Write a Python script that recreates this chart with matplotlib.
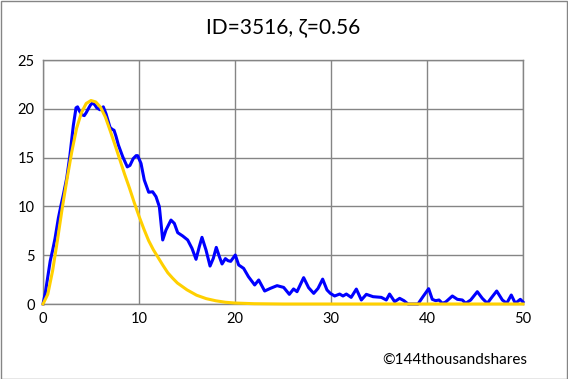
import matplotlib.pyplot as plt
from matplotlib.patches import Rectangle

plt.rcParams['font.family'] = ['Lato', 'DejaVu Sans']

obs_x = [0.0, 0.25, 0.5, 0.75, 1.0, 1.25, 1.6, 1.85, 2.12, 2.47, 2.8, 3.16, 3.44, 3.6,
         3.78, 4.05, 4.3, 4.5, 4.72, 4.95, 5.17, 5.4, 5.6, 5.94, 6.28, 6.56, 6.98, 7.2,
         7.4, 7.6, 7.85, 8.3, 8.78, 9.06, 9.4, 9.7, 9.86, 10.21, 10.55, 11.01, 11.42,
         11.77, 12.12, 12.47, 12.81, 13.33, 13.68, 14.03, 14.55, 15.07, 15.52, 15.94,
         16.28, 16.56, 16.98, 17.40, 17.74, 18.05, 18.37, 18.65, 19.0, 19.27, 19.55,
         20.03, 20.38, 20.9, 21.4, 22.05, 22.47, 23.09, 23.68, 24.38, 25.07, 25.66,
         26.1, 26.46, 27.15, 27.67, 28.2, 28.65, 29.13, 29.58, 29.93, 30.38, 30.9,
         31.25, 31.6, 32.1, 32.64, 33.16, 33.68, 34.38, 35.24, 35.76, 36.1, 36.63,
         37.15, 37.6, 38.02, 39.06, 39.58, 40.17, 40.55, 40.9, 41.25, 41.6, 41.94,
         42.64, 43.16, 43.68, 44.03, 44.55, 45.24, 45.76, 46.28, 46.8, 47.26, 47.85,
         48.3, 48.78, 49.2, 49.72, 50.0]
obs_y = [0.0, 1.2, 2.8, 4.4, 5.5, 6.7, 8.8, 10.0, 11.2, 12.9, 15.2, 18.3, 20.1, 20.2,
         19.8, 19.4, 19.3, 19.6, 20.0, 20.4, 20.6, 20.4, 20.1, 19.9, 20.2, 19.5, 18.1,
         17.9, 17.8, 17.2, 16.3, 15.1, 14.05, 14.2, 14.9, 15.2, 15.2, 14.4, 12.7, 11.45,
         11.5, 11.0, 9.97, 6.56, 7.58, 8.6, 8.26, 7.31, 6.97, 6.56, 5.7, 4.58, 5.87,
         6.83, 5.53, 3.89, 4.68, 5.8, 4.85, 4.1, 4.65, 4.44, 4.37, 5.02, 4.0, 3.65, 2.8,
         1.95, 2.46, 1.33, 1.6, 1.88, 1.7, 0.99, 1.54, 1.26, 2.7, 1.67, 1.09, 1.6, 2.55,
         1.44, 1.09, 0.82, 1.02, 0.82, 1.02, 0.68, 1.53, 0.41, 0.99, 0.75, 0.68, 0.41,
         1.02, 0.24, 0.58, 0.34, 0.0, 0.0, 0.75, 1.57, 0.48, 0.34, 0.41, 0.07, 0.2,
         0.82, 0.48, 0.41, 0.07, 0.41, 1.26, 0.58, 0.07, 0.75, 1.33, 0.41, 0.07, 0.92,
         0.07, 0.48, 0.2]

# fitted curve (yellow)
fit_x = [0, 0.5, 1, 1.5, 2, 2.5, 3, 3.5, 4, 4.5, 5, 5.5, 6, 6.5, 7, 7.5, 8, 8.5, 9,
         9.5, 10, 10.5, 11, 11.5, 12, 12.5, 13, 13.5, 14, 15, 16, 17, 18, 19, 20, 22,
         25, 50]
fit_y = [0, 1.0, 3.4, 6.5, 9.8, 12.8, 15.6, 18.0, 19.6, 20.55, 20.85, 20.7, 20.15,
         19.15, 17.75, 16.3, 14.8, 13.3, 11.9, 10.4, 9.0, 7.7, 6.5, 5.55, 4.75, 3.95,
         3.2, 2.65, 2.15, 1.45, 0.9, 0.55, 0.33, 0.18, 0.1, 0.03, 0, 0]

x_ticks = [0, 10, 20, 30, 40, 50]
y_ticks = [0, 5, 10, 15, 20, 25]

fig = plt.figure(figsize=(5.68, 3.79), dpi=100)
ax = fig.add_axes([43 / 568, 1 - 304 / 379, 480 / 568, 244 / 379])

ax.plot(obs_x, obs_y, color='#0000FF', lw=2.2, solid_joinstyle='round',
        clip_on=False, zorder=3)
ax.plot(fit_x, fit_y, color='#FFD000', lw=2.2, solid_joinstyle='round',
        clip_on=False, zorder=4)

ax.set_xlim(0, 50)
ax.set_ylim(0, 25)
ax.set_xticks(x_ticks)
ax.set_yticks(y_ticks)
ax.grid(True, color='#858585', lw=1.0)
ax.set_axisbelow(True)
for s in ax.spines.values():
    s.set_color('#858585')
    s.set_linewidth(1.0)
ax.tick_params(length=0, labelsize=10.5, colors='black', pad=6)

fig.text(283 / 568, 1 - 27 / 379, 'ID=3516, \u03b6=0.56', ha='center', va='center',
         fontsize=15)
fig.text(527 / 568, 1 - 360 / 379, '\u00a9144thousandshares', ha='right', va='center',
         fontsize=11)

fig.patches.append(Rectangle((0.001, 0.001), 0.997, 0.997, transform=fig.transFigure,
                             fill=False, edgecolor='#858585', lw=1.0))

fig.savefig('out.png', dpi=100)
